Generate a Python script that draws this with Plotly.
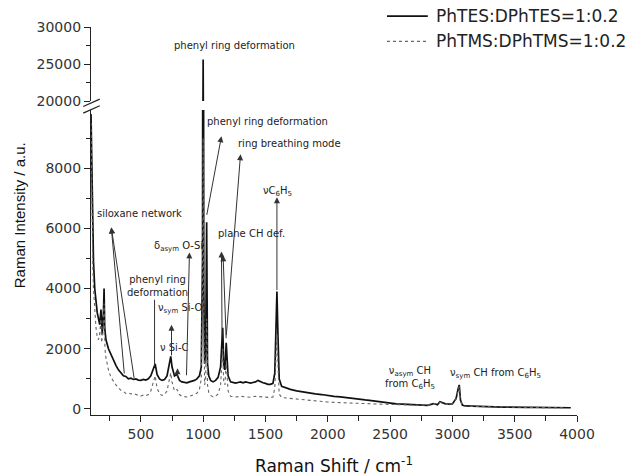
import plotly.graph_objects as go

# ---------------- data ----------------
# PhTES:DPhTES=1:0.2 (solid)
shift_a = [100, 105, 110, 115, 120, 130, 140, 150, 160, 170, 180, 190, 200, 205, 210, 220, 240, 260, 280, 300,
           320, 340, 360, 380, 400, 420, 440, 460, 480, 500, 520, 540, 560, 580, 600, 615, 630, 650, 670, 690,
           710, 730, 740, 750, 770, 790, 810, 830, 850, 870, 890, 910, 930, 950, 970, 985, 995, 1000, 1005, 1012,
           1020, 1028, 1035, 1045, 1060, 1080, 1100, 1120, 1140, 1150, 1157, 1165, 1175, 1185, 1192, 1200, 1220,
           1240, 1260, 1280, 1300, 1320, 1340, 1360, 1380, 1400, 1420, 1440, 1460, 1480, 1500, 1520, 1540, 1560,
           1575, 1585, 1592, 1600, 1610, 1630, 1660, 1700, 1750, 1800, 1850, 1900, 1950, 2000, 2050, 2100, 2150,
           2200, 2250, 2300, 2350, 2400, 2450, 2500, 2550, 2600, 2650, 2700, 2750, 2800, 2850, 2880, 2900, 2920,
           2950, 3000, 3030, 3045, 3055, 3065, 3080, 3100, 3150, 3200, 3250, 3300, 3350, 3400, 3450, 3500, 3550,
           3600, 3650, 3700, 3750, 3800, 3850, 3900, 3950, 4000]
int_a = [9800, 8600, 7000, 5800, 4900, 4000, 3500, 3200, 3000, 2800, 3300, 2500, 3200, 4000, 2700, 2300, 2000, 1800, 1600, 1450,
         1300, 1200, 1100, 1080, 1000, 1020, 980, 1000, 960, 950, 980, 960, 1000, 1100, 1350, 1500, 1150, 1000, 950, 980,
         1100, 1500, 1750, 1400, 1100, 1150, 950, 900, 880, 870, 900, 920, 950, 1000, 1100, 1400, 5000, 25600, 4000, 1500,
         1800, 6200, 1500, 1100, 950, 900, 950, 1050, 1400, 2200, 2700, 1500, 1300, 2200, 1800, 1100, 900,
         880, 860, 880, 900, 870, 900, 880, 860, 880, 900, 950, 900, 870, 850, 820, 820, 850,
         1200, 3000, 3900, 2500, 1000, 750, 700, 650, 600, 560, 530, 500, 480, 440, 420, 400, 370,
         350, 320, 300, 280, 250, 230, 180, 170, 160, 150, 140, 130, 120, 180, 140, 240, 200,
         160, 170, 350, 650, 800, 300, 130, 100, 90, 80, 80, 70, 70, 60, 60, 50,
         60, 50, 50, 50, 40, 50, 40, 40, 40]

# PhTMS:DPhTMS=1:0.2 (dotted)
shift_b = [100, 105, 110, 115, 120, 130, 140, 150, 160, 170, 180, 185, 195, 205, 212, 220, 240, 260, 280, 300,
           320, 340, 360, 380, 400, 420, 440, 460, 480, 500, 520, 540, 560, 580, 600, 615, 630, 650, 670, 690,
           710, 730, 740, 750, 770, 790, 810, 830, 850, 870, 890, 910, 930, 950, 970, 985, 995, 1000, 1005, 1012,
           1020, 1028, 1035, 1045, 1060, 1080, 1100, 1120, 1140, 1150, 1157, 1165, 1175, 1185, 1192, 1200, 1220,
           1260, 1300, 1340, 1380, 1420, 1460, 1500, 1540, 1560, 1575, 1585, 1592, 1600, 1610, 1630, 1700, 1800,
           1900, 2000, 2100, 2200, 2300, 2400, 2500, 2600, 2700, 2800, 2850, 2900, 2950, 3000, 3030, 3045, 3055,
           3065, 3080, 3100, 3200, 3300, 3400, 3500, 3600, 3700, 3800, 3900, 4000]
int_b = [9500, 7500, 5800, 4700, 4000, 3200, 2700, 2400, 2300, 2500, 3000, 2200, 2500, 3500, 2000, 1700, 1300, 1050, 900, 800,
         700, 620, 580, 520, 540, 500, 520, 480, 450, 430, 460, 440, 480, 600, 900, 1100, 700, 500, 450, 480,
         600, 1000, 1200, 900, 600, 650, 480, 420, 400, 400, 420, 450, 480, 520, 650, 1000, 4000, 9000, 3000, 800,
         1000, 3000, 800, 550, 450, 400, 430, 500, 800, 1500, 2000, 900, 800, 1600, 1200, 600, 420,
         400, 420, 400, 390, 420, 400, 390, 380, 400, 700, 1800, 2500, 1500, 500, 380, 350, 300,
         260, 230, 210, 190, 180, 170, 150, 140, 130, 120, 170, 220, 150, 160, 330, 600, 750,
         280, 120, 90, 80, 70, 60, 60, 50, 50, 40, 40]

series_names = ["PhTES:DPhTES=1:0.2", "PhTMS:DPhTMS=1:0.2"]
series_colors = ["#111111", "#666666"]
series_dash = ["solid", "dot"]
series_width = [1.7, 1.1]

# ---------------- figure ----------------
FONT = "DejaVu Sans, Liberation Sans, sans-serif"
FONT_NARROW = "Liberation Sans, Arial, sans-serif"
fig = go.Figure()

for yax in ("y", "y2"):
    for sx, sy, nm, col, ds, wd in ((shift_a, int_a, series_names[0], series_colors[0], series_dash[0], series_width[0]),
                                     (shift_b, int_b, series_names[1], series_colors[1], series_dash[1], series_width[1])):
        fig.add_trace(go.Scatter(x=sx, y=sy, mode="lines", name=nm, yaxis=yax, showlegend=False,
                                 line=dict(color=col, width=wd, dash=ds)))

# manual legend (top right, outside plot area)
for i, nm in enumerate(series_names):
    ly = 1.028 - i * 0.065
    fig.add_shape(type="line", xref="paper", yref="paper", x0=0.609, x1=0.693, y0=ly, y1=ly,
                  line=dict(color=series_colors[i], width=series_width[i], dash=series_dash[i]))
    fig.add_annotation(text=nm, x=0.705, y=ly, xref="paper", yref="paper", xanchor="left", yanchor="middle",
                       showarrow=False, font=dict(family=FONT, size=17, color="#222222"))

# text labels (data coordinates)
labels = [
    ("siloxane network", 489, 6500, "y"),
    ("phenyl ring<br>deformation", 634, 4100, "y"),
    ("ν<sub>sym</sub> Si-O", 818, 3330, "y"),
    ("ν Si-C", 762, 2030, "y"),
    ("δ<sub>asym</sub> O-Si", 802, 5400, "y"),
    ("plane CH def.", 1388, 5830, "y"),
    ("νC<sub>6</sub>H<sub>5</sub>", 1596, 7230, "y"),
    ("phenyl ring deformation", 1519, 9560, "y"),
    ("ring breathing mode", 1694, 8830, "y"),
    ("phenyl ring deformation", 1252, 27570, "y2"),
    ("ν<sub>asym</sub> CH<br>from C<sub>6</sub>H<sub>5</sub>", 2656, 1030, "y"),
    ("ν<sub>sym</sub> CH from C<sub>6</sub>H<sub>5</sub>", 3347, 1170, "y"),
]
for txt, lx, ly, yr in labels:
    fig.add_annotation(text=txt, x=lx, y=ly, xref="x", yref=yr, showarrow=False,
                       font=dict(family=FONT, size=10, color="#222222"))

# arrows: (head x, head y, tail x, tail y, head style)
arrows = [
    (263, 6030, 368, 1130, 2),
    (263, 6030, 448, 970, 2),
    (610, 3630, 610, 1370, 0),
    (746, 2800, 746, 1730, 2),
    (794, 1350, 794, 1000, 2),
    (890, 5200, 866, 1070, 2),
    (1147, 9060, 1027, 6400, 2),
    (1300, 8460, 1185, 2400, 2),
    (1147, 5230, 1152, 2300, 2),
    (1160, 5100, 1185, 2300, 2),
    (1592, 7030, 1592, 3900, 2),
]
for hx, hy, tx, ty, hs in arrows:
    fig.add_annotation(text="", x=hx, y=hy, ax=tx, ay=ty, xref="x", yref="y", axref="x", ayref="y",
                       showarrow=True, arrowhead=hs, arrowsize=1.2, arrowwidth=1, arrowcolor="#333333",
                       standoff=0, startstandoff=0)

# y-axis title
fig.add_annotation(text="Raman Intensity / a.u.", x=-0.148, y=0.515, xref="paper", yref="paper",
                   xanchor="center", yanchor="middle",
                   textangle=-90, showarrow=False, font=dict(family=FONT_NARROW, size=15, color="#111111"))

# axis break marks
for y0, y1 in ((0.778, 0.797), (0.795, 0.814)):
    fig.add_shape(type="line", xref="paper", yref="paper", x0=-0.016, x1=0.018, y0=y0, y1=y1,
                  line=dict(color="#222222", width=1.2))

axis_common = dict(showline=True, linecolor="#222222", linewidth=1.3, ticks="outside", ticklen=6,
                   tickcolor="#222222", showgrid=False, zeroline=False, tickformat="d", automargin=False,
                   tickfont=dict(family=FONT, size=14, color="#333333"))

fig.update_layout(
    width=634, height=476,
    margin=dict(l=91, r=57, t=27, b=61),
    paper_bgcolor="white", plot_bgcolor="white",
    xaxis=dict(range=[100, 4000], tickvals=[500, 1000, 1500, 2000, 2500, 3000, 3500, 4000],
               minor=dict(ticks="outside", ticklen=5, tickvals=[250, 750, 1250, 1750, 2250, 2750, 3250, 3750],
                          tickcolor="#222222"),
               title=dict(text="Raman Shift / cm<sup>-1</sup>", standoff=20,
                          font=dict(family=FONT, size=17, color="#111111")),
               anchor="y", **axis_common),
    yaxis=dict(domain=[0, 0.786], range=[-200, 9930], tickvals=[0, 2000, 4000, 6000, 8000],
               minor=dict(ticks="outside", ticklen=4, tickvals=[1000, 3000, 5000, 7000, 9000],
                          tickcolor="#222222"),
               anchor="x", **axis_common),
    yaxis2=dict(domain=[0.809, 1], range=[20000, 30000], tickvals=[20000, 25000, 30000],
                minor=dict(ticks="outside", ticklen=4, tickvals=[22500, 27500], tickcolor="#222222"),
                anchor="x", **axis_common),
    showlegend=False,
)

fig.write_html("out.html")
